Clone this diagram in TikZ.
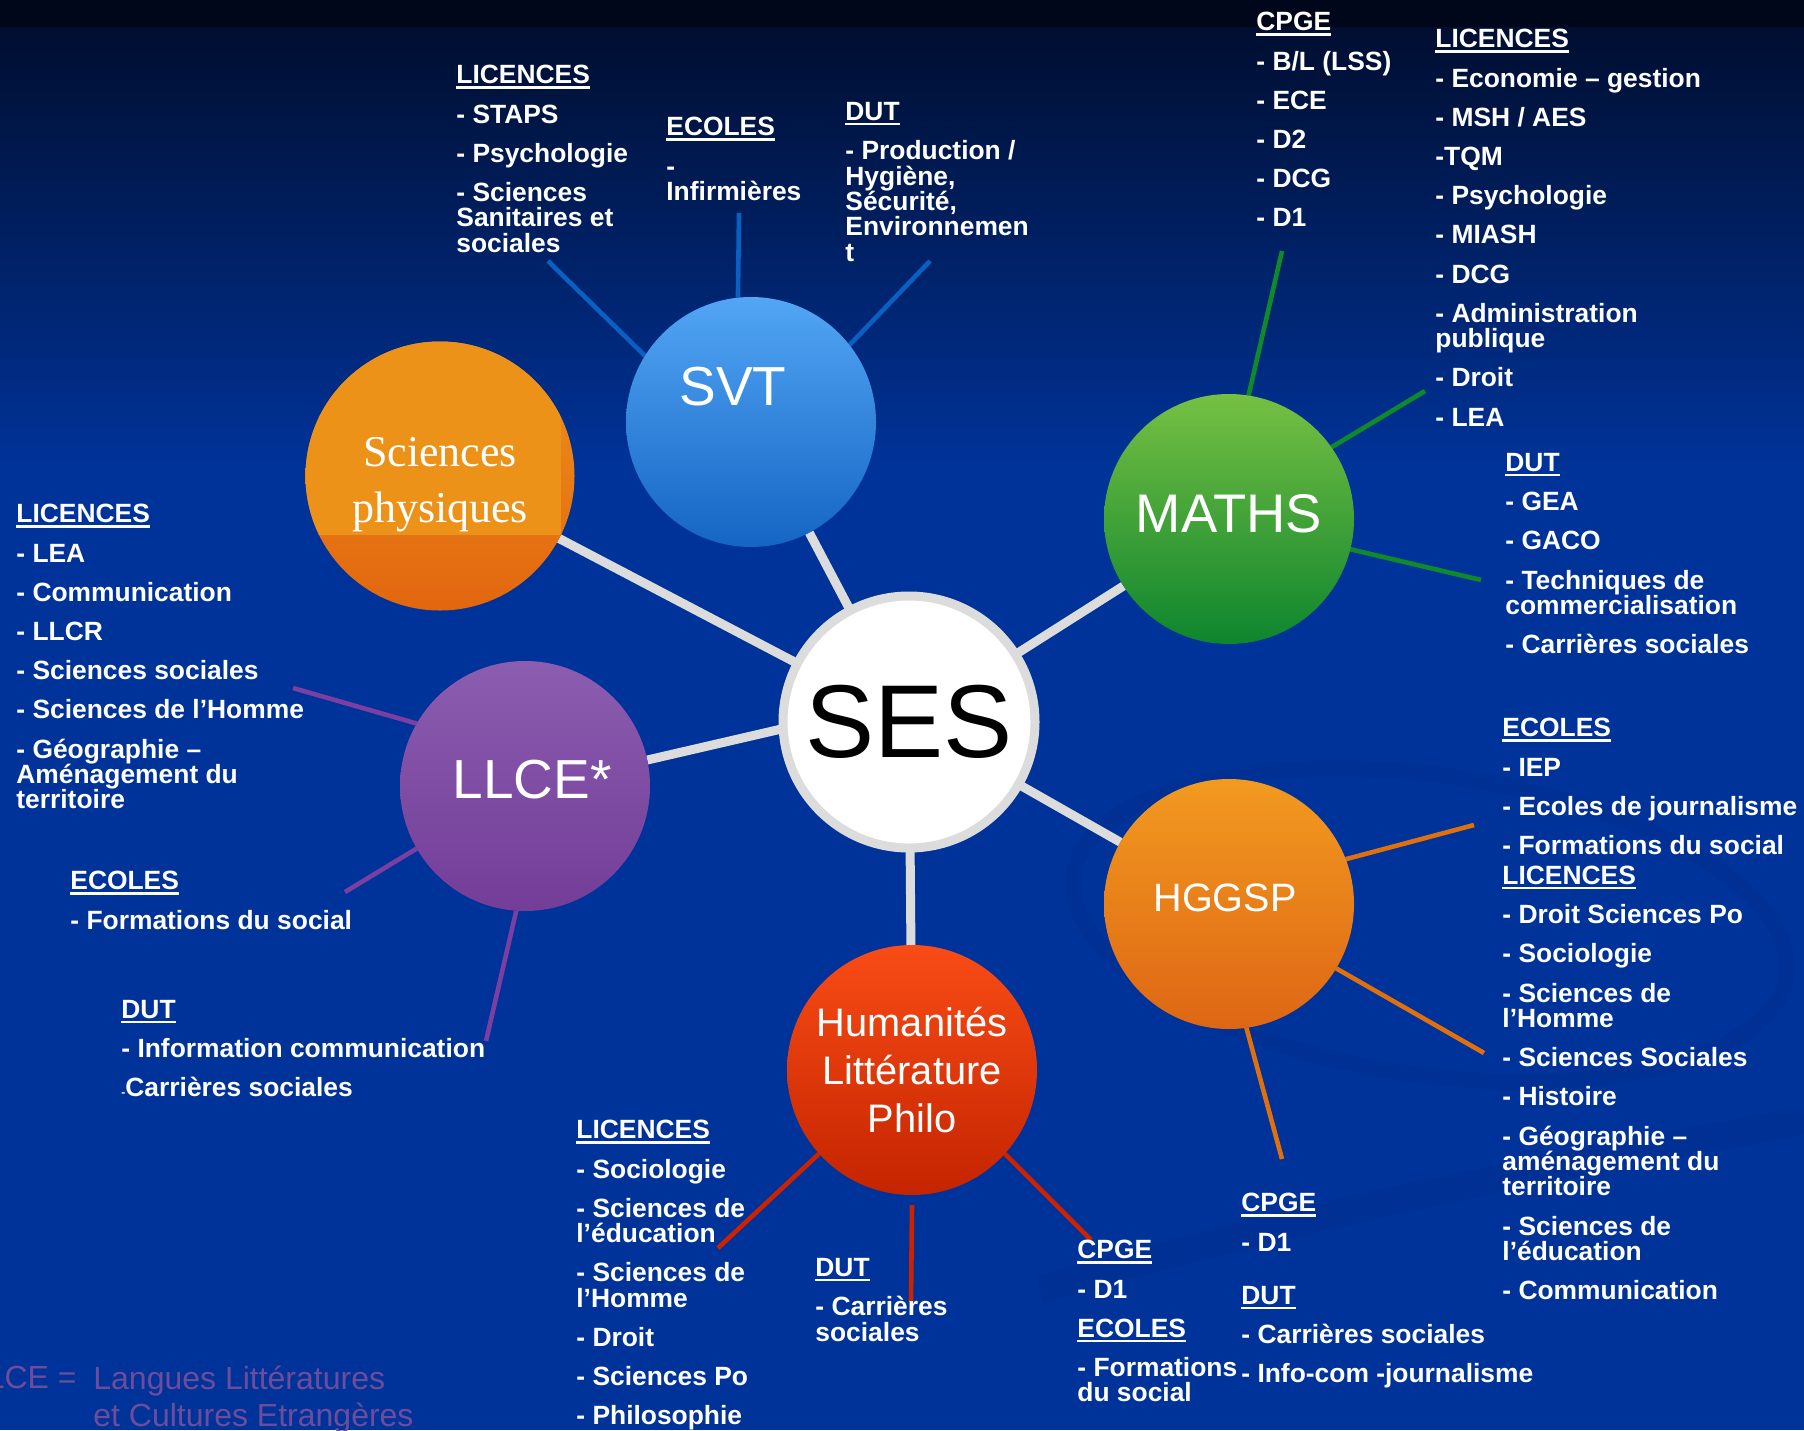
\documentclass[tikz,border=0pt]{standalone}
\usepackage{fontspec}
\setmainfont{Liberation Sans}
\newfontfamily\physfont{Liberation Serif}

\pgfdeclarelayer{back}
\pgfdeclarelayer{mid}
\pgfsetlayers{back,mid,main}

\definecolor{fondbleu}{HTML}{003399}
\definecolor{fondhaut}{HTML}{000E30}
\definecolor{fondnoir}{HTML}{00071A}
\definecolor{volute}{HTML}{002B86}
\definecolor{rayongris}{HTML}{DCDCDC}
\definecolor{svthaut}{HTML}{52A6F4}
\definecolor{svtbas}{HTML}{1565C4}
\definecolor{svttrait}{HTML}{0A5FC2}
\definecolor{physhaut}{HTML}{EE941B}
\definecolor{physbas}{HTML}{E2660F}
\definecolor{physcadre}{HTML}{EC9219}
\definecolor{mathhaut}{HTML}{76C043}
\definecolor{mathbas}{HTML}{0E852E}
\definecolor{mathtrait}{HTML}{0E8A2A}
\definecolor{llcehaut}{HTML}{8B5DB0}
\definecolor{llcebas}{HTML}{733D98}
\definecolor{llcetrait}{HTML}{7A3FA0}
\definecolor{hghaut}{HTML}{F29A20}
\definecolor{hgbas}{HTML}{DE6614}
\definecolor{hgtrait}{HTML}{E0700E}
\definecolor{humhaut}{HTML}{F94C16}
\definecolor{humbas}{HTML}{C42400}
\definecolor{humtrait}{HTML}{CC2200}
\definecolor{notepourpre}{HTML}{6E4C9C}

\newcommand{\souligne}[1]{{\setbox0\hbox{#1}\rlap{\rule[-2.4pt]{\wd0}{1.1pt}}\box0}}

\tikzset{
  liste/.style={anchor=north west, inner sep=0pt, align=left, text=white,
    font={\bfseries\fontsize{13.2}{19.6}\selectfont\lineskiplimit=-30pt}},
  bulle/.style={circle, inner sep=0pt, outer sep=0pt, minimum size=125pt, text=white, align=center},
  nom/.style={text=white, inner sep=0pt},
  rayon/.style={draw=rayongris, line width=4.5pt},
  trait/.style={line width=2.3pt},
}

\begin{document}
\begin{tikzpicture}[x=0.5pt,y=-0.5pt]
\useasboundingbox (0,0) rectangle (1804,1430);

% fond
\begin{pgfonlayer}{back}
  \fill[fondbleu] (0,0) rectangle (1804,1430);
  \shade[top color=fondhaut, bottom color=fondbleu] (0,26) rectangle (1804,470);
  \fill[fondnoir] (0,0) rectangle (1804,27);
  \draw[volute, line width=8pt, opacity=.3, rotate around={-8:(1430,925)}] (1430,925) ellipse [x radius=360, y radius=150];
  \draw[volute, line width=14pt, opacity=.3] (1040,1290) .. controls (1350,1200) and (1600,1160) .. (1804,1120);
\end{pgfonlayer}

% bulles
\node[bulle, fill=white, draw=rayongris, line width=4.5pt, minimum size=126pt, text=black, font=\fontsize{51.8}{60}\selectfont] (ses) at (909,722) {SES};
\node[bulle, top color=svthaut, bottom color=svtbas] (svt) at (751,422) {};
\node[nom, font=\fontsize{27.5}{33}\selectfont] (svtnom) at (733,387) {SVT};
\node[bulle, minimum size=134.5pt, top color=physhaut, bottom color=physbas] (phys) at (440,476) {};
\begin{scope}
  \clip (phys.center) circle [radius=67.25pt];
  \fill[physcadre] (300,330) rectangle (561,535);
\end{scope}
\node[nom, align=center, font=\physfont\fontsize{22}{28}\selectfont] (physnom) at (440,485) {Sciences\\physiques};
\node[bulle, top color=mathhaut, bottom color=mathbas] (maths) at (1229,519) {};
\node[nom, font=\fontsize{27.2}{32}\selectfont] (mathsnom) at (1229,514) {MATHS};
\node[bulle, top color=llcehaut, bottom color=llcebas] (llce) at (525,786) {};
\node[nom, font=\fontsize{27.5}{33}\selectfont] (llcenom) at (532,780) {LLCE*};
\node[bulle, top color=hghaut, bottom color=hgbas] (hggsp) at (1229,904) {};
\node[nom, font=\fontsize{19.8}{24}\selectfont] (hggspnom) at (1225,898) {HGGSP};
\node[bulle, top color=humhaut, bottom color=humbas, font=\fontsize{19.9}{23.8}\selectfont] (huma) at (912,1070) {Humanités\\Littérature\\Philo};

% SVT
\node[liste] (svtlic) at (456,65) {\souligne{LICENCES}\\- STAPS\\- Psychologie\\- Sciences\\[-6.9pt]Sanitaires et\\[-6.9pt]sociales};
\node[liste] (svtec) at (666,117) {\souligne{ECOLES}\\-\\[-6.9pt]Infirmières};
\node[liste] (svtdut) at (845,102) {\souligne{DUT}\\- Production /\\[-6.9pt]Hygiène,\\[-6.9pt]Sécurité,\\[-6.9pt]Environnemen\\[-6.9pt]t};

% MATHS
\node[liste] (mathcpge) at (1256,12) {\souligne{CPGE}\\- B/L (LSS)\\- ECE\\- D2\\- DCG\\- D1};
\node[liste] (mathlic) at (1435,29) {\souligne{LICENCES}\\- Economie – gestion\\- MSH / AES\\-TQM\\- Psychologie\\- MIASH\\- DCG\\- Administration\\[-6.9pt]publique\\- Droit\\- LEA};
\node[liste] (mathdut) at (1505,453) {\souligne{DUT}\\- GEA\\- GACO\\- Techniques de\\[-6.9pt]commercialisation\\- Carrières sociales};

% LLCE
\node[liste] (llcelic) at (16,504) {\souligne{LICENCES}\\- LEA\\- Communication\\- LLCR\\- Sciences sociales\\- Sciences de l’Homme\\- Géographie –\\[-6.9pt]Aménagement du\\[-6.9pt]territoire};
\node[liste] (llceec) at (70,871) {\souligne{ECOLES}\\- Formations du social};
\node[liste] (llcedut) at (121,1000) {\souligne{DUT}\\- Information communication\\{\fontsize{6}{6}\selectfont-}Carrières sociales};

% HGGSP
\node[liste] (hgec) at (1502,718) {\souligne{ECOLES}\\- IEP\\- Ecoles de journalisme\\- Formations du social\\[-4.6pt]\souligne{LICENCES}\\- Droit Sciences Po\\- Sociologie\\- Sciences de\\[-6.9pt]l’Homme\\- Sciences Sociales\\- Histoire\\- Géographie –\\[-6.9pt]aménagement du\\[-6.9pt]territoire\\- Sciences de\\[-6.9pt]l’éducation\\- Communication};
\node[liste] (hgcpge) at (1241,1193) {\souligne{CPGE}\\- D1};
\node[liste] (hgdut) at (1241,1286) {\souligne{DUT}\\- Carrières sociales\\- Info-com -journalisme};

% Humanites
\node[liste] (humlic) at (576,1120) {\souligne{LICENCES}\\- Sociologie\\- Sciences de\\[-6.9pt]l’éducation\\- Sciences de\\[-6.9pt]l’Homme\\- Droit\\- Sciences Po\\- Philosophie};
\node[liste] (humdut) at (815,1258) {\souligne{DUT}\\- Carrières\\[-6.9pt]sociales};
\node[liste] (humcpge) at (1077,1240) {\souligne{CPGE}\\- D1\\\souligne{ECOLES}\\- Formations\\[-6.9pt]du social};

% note
\node[anchor=base east, inner sep=0pt, text=notepourpre, font=\fontsize{16}{18.4}\selectfont] (notecle) at (77,1388) {LLCE =};
\node[anchor=north west, inner sep=0pt, align=left, text=notepourpre, font=\fontsize{16}{18.4}\selectfont] (notetexte) at (93,1366) {Langues Littératures\\et Cultures Etrangères};

% bouts des traits
\coordinate (svt1) at (548,261);
\coordinate (svt2) at (739,213);
\coordinate (svt3) at (930,261);
\coordinate (math1) at (1282,251);
\coordinate (math2) at (1425,391);
\coordinate (math3) at (1481,580);
\coordinate (llce1) at (293,688);
\coordinate (llce2) at (345,892);
\coordinate (llce3) at (486,1041);
\coordinate (hg1) at (1474,825);
\coordinate (hg2) at (1484,1053);
\coordinate (hg3) at (1282,1159);
\coordinate (hum1) at (718,1248);
\coordinate (hum2) at (911,1302);
\coordinate (hum3) at (1091,1240);

\begin{pgfonlayer}{mid}
  \draw[rayon] (ses) -- (svt);
  \draw[rayon] (ses) -- (phys);
  \draw[rayon] (ses) -- (maths);
  \draw[rayon] (ses.183) -- (llce.12);
  \draw[rayon] (ses) -- (hggsp);
  \draw[rayon] (ses) -- (huma);

  \draw[trait, svttrait] (svt.148) -- (svt1);
  \draw[trait, svttrait] (svt.96) -- (svt2);
  \draw[trait, svttrait] (svt.38) -- (svt3);

  \draw[trait, mathtrait] (maths.81) -- (math1);
  \draw[trait, mathtrait] (maths.35) -- (math2);
  \draw[trait, mathtrait] (maths.-14) -- (math3);

  \draw[trait, llcetrait] (llce.150) -- (llce1);
  \draw[trait, llcetrait] (llce.210) -- (llce2);
  \draw[trait, llcetrait] (llce.266) -- (llce3);

  \draw[trait, hgtrait] (hggsp.21) -- (hg1);
  \draw[trait, hgtrait] (hggsp.-31) -- (hg2);
  \draw[trait, hgtrait] (hggsp.-82) -- (hg3);

  \draw[trait, humtrait] (huma.222) -- (hum1);
  \draw[trait, humtrait] ([yshift=-5pt]huma.south) -- (hum2);
  \draw[trait, humtrait] (huma.318) -- (hum3);
\end{pgfonlayer}
\end{tikzpicture}
\end{document}
